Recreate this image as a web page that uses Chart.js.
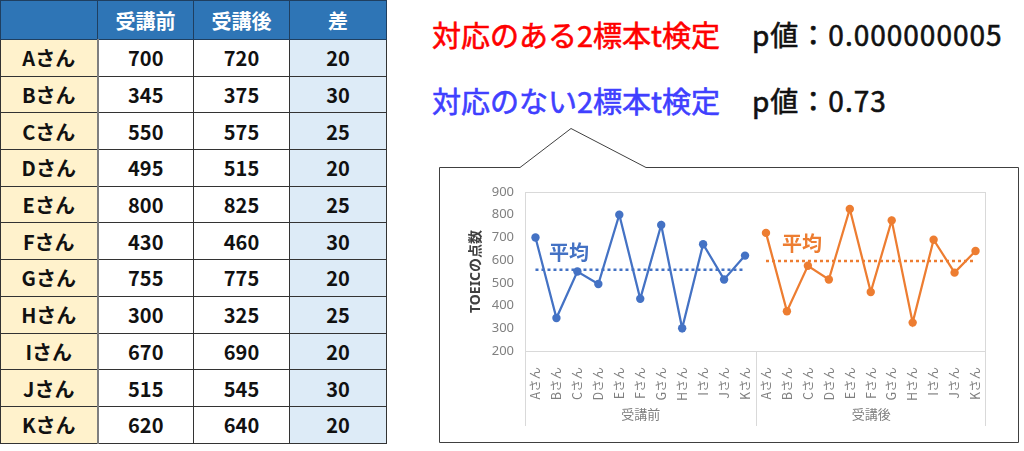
<!DOCTYPE html>
<html lang="ja">
<head>
<meta charset="utf-8">
<script src="https://cdn.jsdelivr.net/npm/chart.js@4.4.1/dist/chart.umd.min.js"></script>
<style>
  html, body { margin:0; padding:0; background:#fff; }
  body { width:1024px; height:451px; position:relative; overflow:hidden; font-family:"Noto Sans CJK JP","Noto Sans",sans-serif; }
  #tbl { position:absolute; left:0; top:0; border-collapse:collapse; table-layout:fixed; }
  #tbl td, #tbl th { border:1px solid #333; text-align:center; padding:0; font-weight:bold; color:#111; font-size:20px; }
  #tbl th { background:#2E75B6; color:#fff; height:38px; font-size:20px; border-color:#1F3F60; }
  #tbl td { height:35.7px; }
  #tbl td.nm { background:#FFF2CC; border-right:2px solid #7F7F7F; }
  #tbl td.df { background:#DDEBF7; }
  .t { position:absolute; white-space:nowrap; line-height:1; font-weight:normal; -webkit-text-stroke:0.6px currentColor; }
  #callout { position:absolute; left:0; top:0; }
  #chartWrap { position:absolute; left:440px; top:168px; width:578px; height:273px; }
  .avg { position:absolute; font-size:20px; font-weight:bold; line-height:1; }
</style>
</head>
<body>
<table id="tbl"></table>

<div class="t" style="left:432px; top:20px; font-size:29px; color:#FF0000;">対応のある2標本t検定</div>
<div class="t" style="left:752px; top:20px; font-size:28px; letter-spacing:1px; color:#111;">p値：0.000000005</div>
<div class="t" style="left:432px; top:86px; font-size:29px; color:#4040FF;">対応のない2標本t検定</div>
<div class="t" style="left:752px; top:86px; font-size:28px; letter-spacing:1px; color:#111;">p値：0.73</div>

<svg id="callout" width="1024" height="451">
  <path d="M439.5 167.5 L520 167.5 L571 128.5 L646 167.5 L1018.5 167.5 L1018.5 442.5 L439.5 442.5 Z" fill="#fff" stroke="#404040" stroke-width="1"/>
</svg>
<div id="chartWrap"><canvas id="c" width="578" height="273"></canvas></div>
<div class="avg" style="left:549px; top:242px; color:#4472C4;">平均</div>
<div class="avg" style="left:782px; top:233px; color:#ED7D31;">平均</div>

<script>
// ---- data ----
const names = ['Aさん','Bさん','Cさん','Dさん','Eさん','Fさん','Gさん','Hさん','Iさん','Jさん','Kさん'];
const beforeScores = [700,345,550,495,800,430,755,300,670,515,620];
const afterScores  = [720,375,575,515,825,460,775,325,690,545,640];
const diffs        = [20,30,25,20,25,30,20,25,20,30,20];
const tableHeaders = ['','受講前','受講後','差'];
const groupLabels  = ['受講前','受講後'];
const beforeAvg = 558;
const afterAvg  = 596;
const yMin = 200, yMax = 900, yStep = 100;
const yTitle = 'TOEICの点数';

// ---- table ----
const tbl = document.getElementById('tbl');
const colW = [97,96,96,97];
let html = '<colgroup>' + colW.map(w => '<col style="width:'+w+'px">').join('') + '</colgroup>';
html += '<tr>' + tableHeaders.map(h => '<th>'+h+'</th>').join('') + '</tr>';
names.forEach((n,i) => {
  html += '<tr><td class="nm">'+n+'</td><td>'+beforeScores[i]+'</td><td>'+afterScores[i]+'</td><td class="df">'+diffs[i]+'</td></tr>';
});
tbl.innerHTML = html;

// ---- chart ----
const nulls = names.map(() => null);
const labels = names.concat(names);
const FONT = "'Noto Sans','Noto Sans CJK JP',sans-serif";
const BLUE = '#4472C4', ORANGE = '#ED7D31', GRAY = '#808080', LINE = '#D9D9D9';

const groupFrame = {
  id:'groupFrame',
  afterDraw(chart){
    const {ctx, chartArea:{left,right,top,bottom}, scales:{x}} = chart;
    const n = names.length;
    const sep = Math.round((x.getPixelForValue(n-1) + x.getPixelForValue(n))/2) + 0.5;
    const ext = bottom + 75;
    ctx.save();
    ctx.strokeStyle = LINE; ctx.lineWidth = 1;
    ctx.beginPath();
    ctx.moveTo(Math.round(left)+0.5, top); ctx.lineTo(Math.round(left)+0.5, ext);
    ctx.moveTo(Math.round(right)-0.5, top); ctx.lineTo(Math.round(right)-0.5, ext);
    ctx.moveTo(sep, bottom); ctx.lineTo(sep, ext);
    ctx.stroke();
    ctx.fillStyle = GRAY;
    ctx.font = "13px 'Noto Sans CJK JP',sans-serif";
    ctx.textAlign = 'center'; ctx.textBaseline = 'middle';
    ctx.fillText(groupLabels[0], (left+sep)/2, bottom + 63);
    ctx.fillText(groupLabels[1], (sep+right)/2, bottom + 63);
    ctx.restore();
  }
};

new Chart(document.getElementById('c'), {
  type:'line',
  data:{
    labels: labels,
    datasets:[
      { label:'受講前平均', data: names.map(() => beforeAvg).concat(nulls), borderColor:BLUE, borderWidth:2.5, borderDash:[3,3], pointRadius:0, order:3 },
      { label:'受講後平均', data: nulls.concat(names.map(() => afterAvg)), borderColor:ORANGE, borderWidth:2.5, borderDash:[3,3], pointRadius:0, order:3 },
      { label:'受講前', data: beforeScores.concat(nulls), borderColor:BLUE, backgroundColor:BLUE, borderWidth:2.25, pointRadius:4.2, pointBackgroundColor:BLUE, pointBorderWidth:0, order:1 },
      { label:'受講後', data: nulls.concat(afterScores), borderColor:ORANGE, backgroundColor:ORANGE, borderWidth:2.25, pointRadius:4.2, pointBackgroundColor:ORANGE, pointBorderWidth:0, order:1 }
    ]
  },
  options:{
    responsive:false,
    animation:false,
    spanGaps:false,
    layout:{ padding:{ left:0, right:32, top:24, bottom:0 } },
    plugins:{ legend:{display:false}, tooltip:{enabled:false} },
    scales:{
      x:{
        type:'category', offset:true,
        grid:{ display:false }, border:{ display:false },
        ticks:{ autoSkip:false, minRotation:90, maxRotation:90, color:GRAY, padding:8, font:{ family:"'Noto Sans CJK JP',sans-serif", size:12.5 } },
        afterFit(s){ s.height = 90; }
      },
      y:{
        min:yMin, max:yMax,
        ticks:{ stepSize:yStep, color:GRAY, padding:11, font:{ family:FONT, size:13 } },
        grid:{ drawTicks:false, color: c => (c.tick && (c.tick.value === yMin || c.tick.value === yMax)) ? LINE : 'rgba(0,0,0,0)' },
        border:{ display:false },
        title:{ display:true, text:yTitle, color:'#404040', padding:{top:28,bottom:0}, font:{ family:FONT, size:14, weight:'bold' } },
        afterFit(s){ s.width = 85; }
      }
    }
  },
  plugins:[groupFrame]
});
</script>
</body>
</html>
